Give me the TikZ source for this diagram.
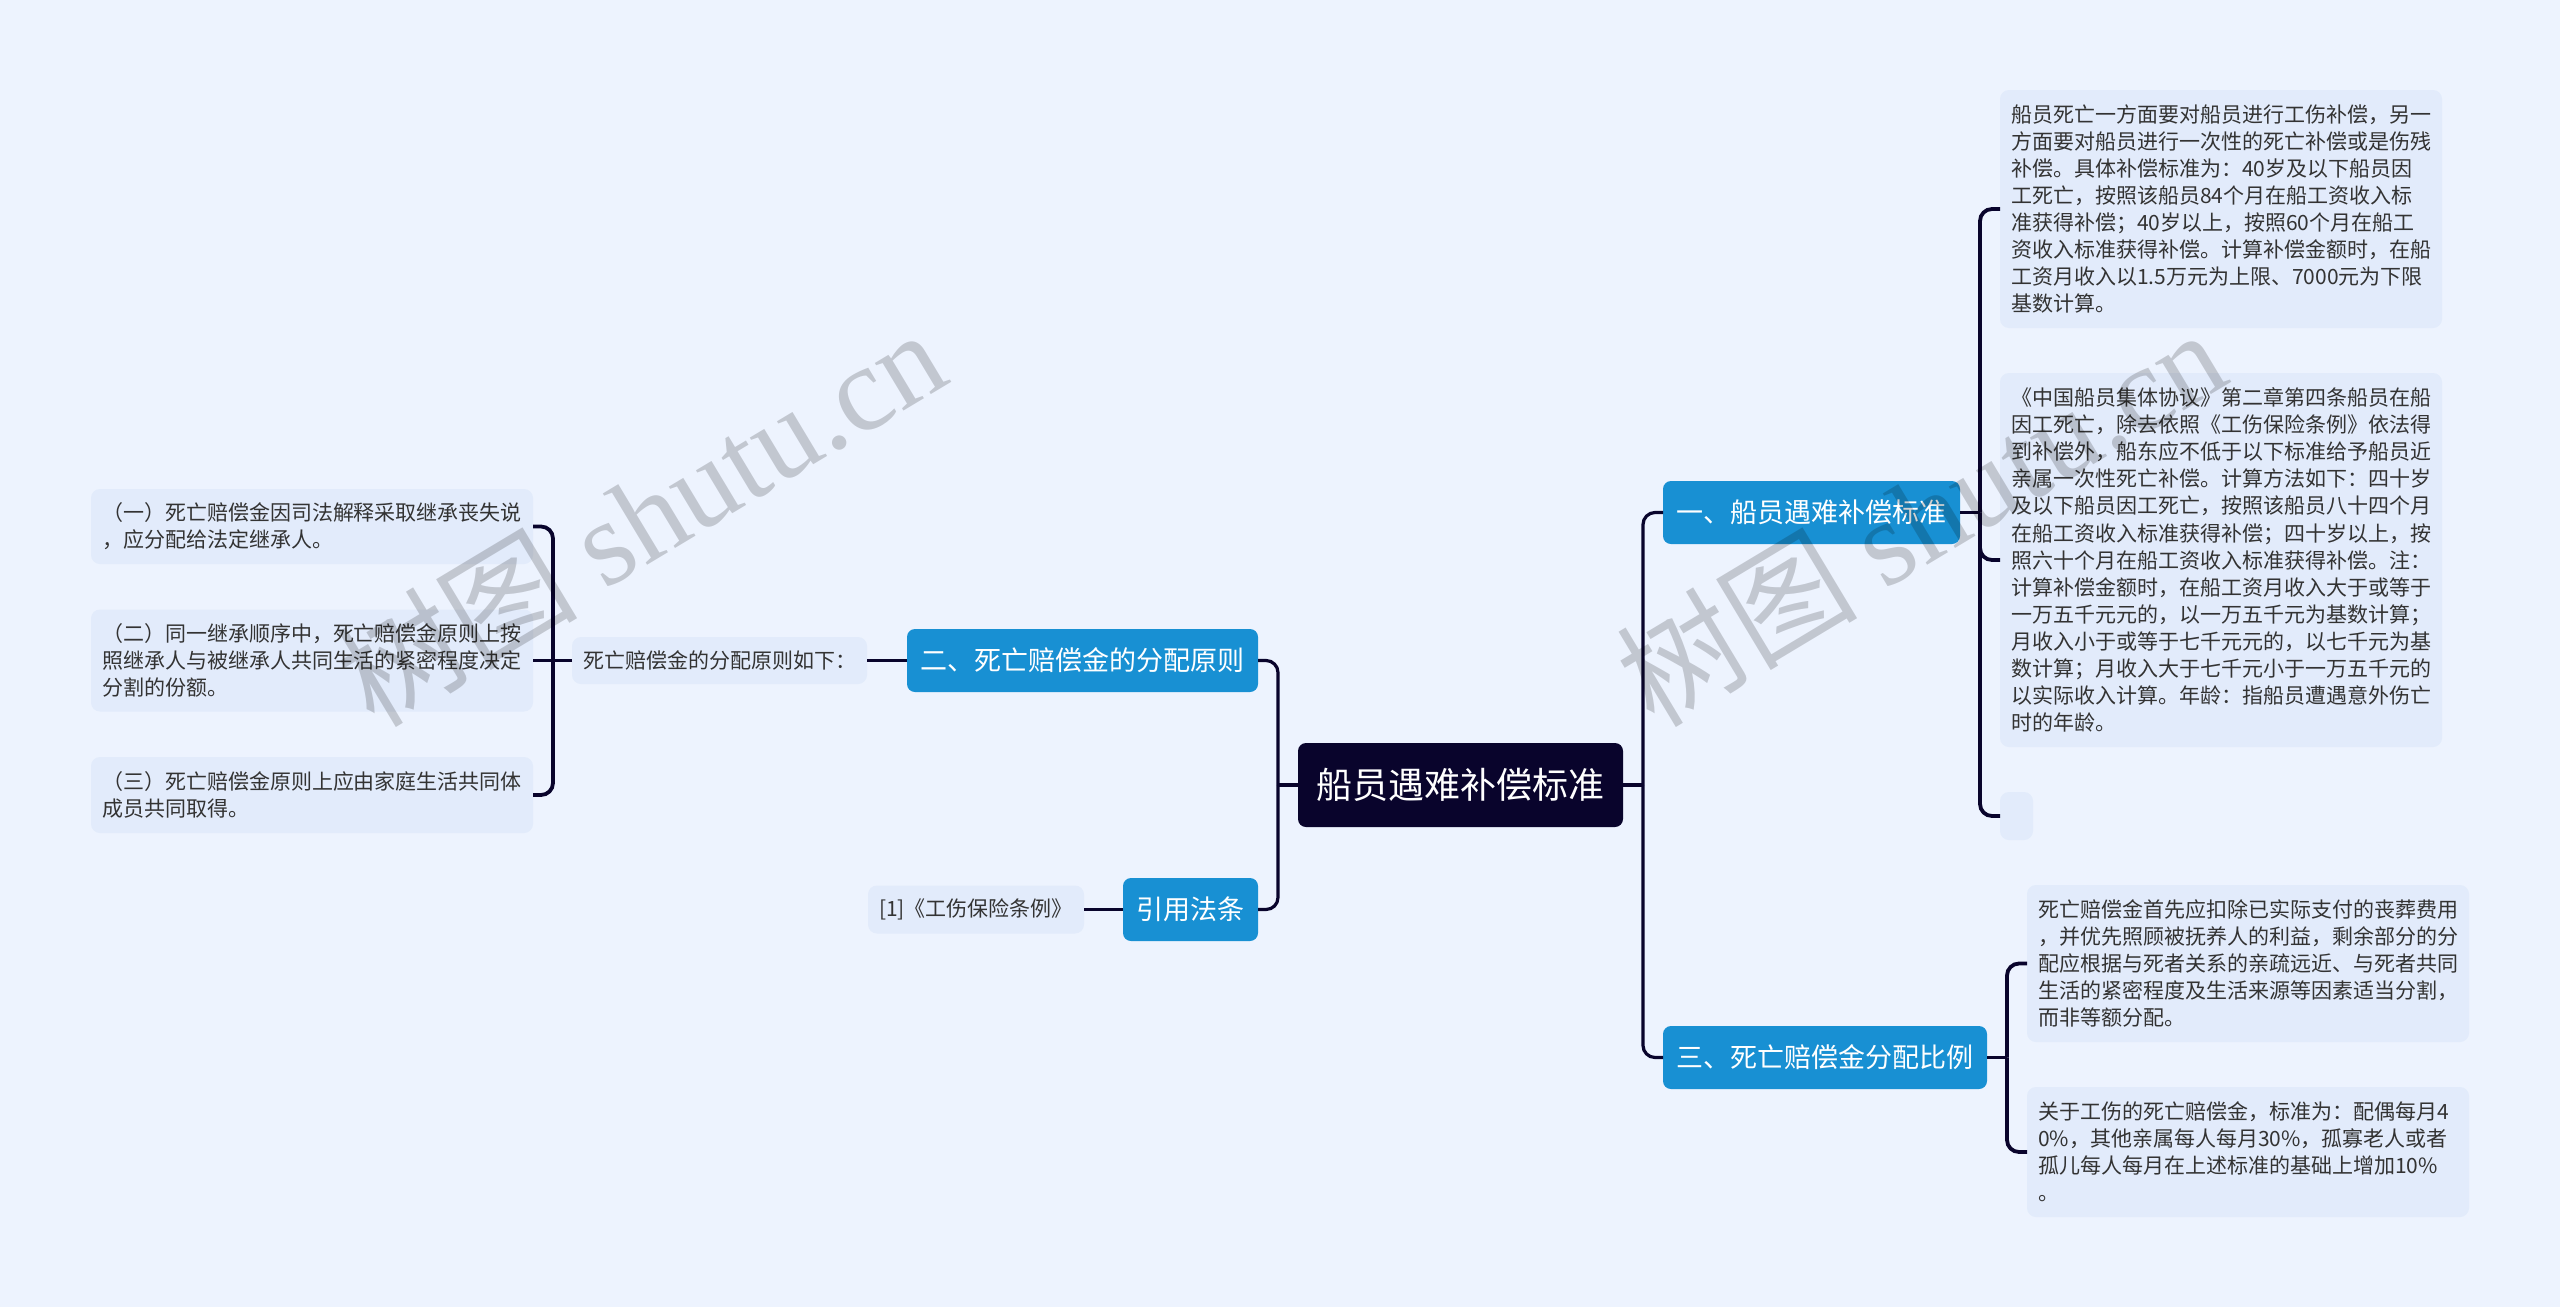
\documentclass[tikz,border=0pt]{standalone}
\usepackage{fontspec}
\setmainfont{Noto Sans CJK SC}
\newfontfamily\markfont{Liberation Serif}
\newcommand{\qcomma}{\char"FF0C\relax}
\newcommand{\qcolon}{\char"FF1A\relax}
\newcommand{\qsemi}{\char"FF1B\relax}
\newcommand{\qopen}{\char"FF08\relax}
\newcommand{\qclose}{\char"FF09\relax}
\definecolor{pagebg}{HTML}{EDF3FE}
\definecolor{leafbg}{HTML}{E2EBFB}
\definecolor{topicblue}{HTML}{1890D3}
\definecolor{rootdark}{HTML}{09042C}
\definecolor{leaftext}{HTML}{333333}
\tikzset{
  rootnode/.style={fill=rootdark, text=white, rounded corners=8pt, outer sep=0pt, inner xsep=18.5pt, inner ysep=0pt, minimum height=84pt, font=\fontsize{36}{40}\selectfont},
  topicnode/.style={fill=topicblue, text=white, rounded corners=8pt, outer sep=0pt, inner xsep=13.5pt, inner ysep=0pt, minimum height=63pt, font=\fontsize{27}{32}\selectfont},
  leafnode/.style={fill=leafbg, text=leaftext, rounded corners=9pt, outer sep=0pt, inner xsep=11pt, inner ysep=0pt, align=left, font=\fontsize{21}{27.1}\selectfont},
  link/.style={draw=rootdark, line width=3.2pt, rounded corners=12pt},
  leaflink/.style={link, line width=3.8pt},
  watermark/.style={text=black, text opacity=0.18, rotate=31, font=\fontsize{121}{130}\selectfont}
}

\begin{document}
\begin{tikzpicture}[x=1pt, y=-1pt]
\fill[pagebg] (0,0) rectangle (2560,1307);

% Nodes
\node[rootnode] (root) at (1460.5,785) {船员遇难补偿标准};
\node[topicnode] (standard) at (1811.5,512.5) {一、船员遇难补偿标准};
\node[topicnode] (ratio) at (1825,1057.5) {三、死亡赔偿金分配比例};
\node[topicnode] (principle) at (1082.5,660.5) {二、死亡赔偿金的分配原则};
\node[topicnode] (statute) at (1190.5,909.5) {引用法条};

\node[leafnode, text width=420pt, minimum height=238pt] (workinjury) at (2221,209) {船员死亡一方面要对船员进行工伤补偿\qcomma 另一\\方面要对船员进行一次性的死亡补偿或是伤残\\补偿。具体补偿标准为\qcolon 40岁及以下船员因\\工死亡\qcomma 按照该船员84个月在船工资收入标\\准获得补偿\qsemi 40岁以上\qcomma 按照60个月在船工\\资收入标准获得补偿。计算补偿金额时\qcomma 在船\\工资月收入以1.5万元为上限、7000元为下限\\基数计算。};
\node[leafnode, text width=420pt, minimum height=374pt] (agreement) at (2221,560) {《中国船员集体协议》第二章第四条船员在船\\因工死亡\qcomma 除去依照《工伤保险条例》依法得\\到补偿外\qcomma 船东应不低于以下标准给予船员近\\亲属一次性死亡补偿。计算方法如下\qcolon 四十岁\\及以下船员因工死亡\qcomma 按照该船员八十四个月\\在船工资收入标准获得补偿\qsemi 四十岁以上\qcomma 按\\照六十个月在船工资收入标准获得补偿。注\qcolon\\计算补偿金额时\qcomma 在船工资月收入大于或等于\\一万五千元元的\qcomma 以一万五千元为基数计算\qsemi\\月收入小于或等于七千元元的\qcomma 以七千元为基\\数计算\qsemi 月收入大于七千元小于一万五千元的\\以实际收入计算。年龄\qcolon 指船员遭遇意外伤亡\\时的年龄。};
\node[leafnode, text width=11pt, minimum height=48pt] (emptyleaf) at (2016.5,816) {};
\node[leafnode, text width=420pt, minimum height=157pt] (deduct) at (2248,963.5) {死亡赔偿金首先应扣除已实际支付的丧葬费用\\\qcomma 并优先照顾被抚养人的利益\qcomma 剩余部分的分\\配应根据与死者关系的亲疏远近、与死者共同\\生活的紧密程度及生活来源等因素适当分割\qcomma\\而非等额分配。};
\node[leafnode, text width=420pt, minimum height=130pt] (monthly) at (2248,1152) {关于工伤的死亡赔偿金\qcomma 标准为\qcolon 配偶每月4\\0\%\qcomma 其他亲属每人每月30\%\qcomma 孤寡老人或者\\孤儿每人每月在上述标准的基础上增加10\%\\。};

\node[leafnode, text width=273pt, minimum height=47pt] (rules) at (719.5,660.5) {死亡赔偿金的分配原则如下\qcolon};
\node[leafnode, text width=194pt, minimum height=48pt] (injuryact) at (976,909.5) {[1]《工伤保险条例》};
\node[leafnode, text width=420pt, minimum height=75pt] (ruleone) at (312,526.5) {\qopen 一\qclose 死亡赔偿金因司法解释采取继承丧失说\\\qcomma 应分配给法定继承人。};
\node[leafnode, text width=420pt, minimum height=102pt] (ruletwo) at (312,660.5) {\qopen 二\qclose 同一继承顺序中\qcomma 死亡赔偿金原则上按\\照继承人与被继承人共同生活的紧密程度决定\\分割的份额。};
\node[leafnode, text width=420pt, minimum height=76pt] (rulethree) at (312,795) {\qopen 三\qclose 死亡赔偿金原则上应由家庭生活共同体\\成员共同取得。};

\coordinate (forkright) at (1643,785);
\coordinate (forkleft) at (1278,785);
\coordinate (forkstandard) at (1980,512.5);
\coordinate (forkratio) at (2007,1057.5);
\coordinate (forkrules) at (553,660.5);

% Arrows
\draw[link] (root.east) -- (forkright);
\draw[link] (standard.west) -| (forkright);
\draw[link] (ratio.west) -| (forkright);
\draw[link] (root.west) -- (forkleft);
\draw[link] (principle.east) -| (forkleft);
\draw[link] (statute.east) -| (forkleft);

\draw[leaflink] (standard.east) -- (forkstandard);
\draw[leaflink] (workinjury.west) -| (forkstandard);
\draw[leaflink] (agreement.west) -| (forkstandard);
\draw[leaflink] (emptyleaf.west) -| (forkstandard);
\draw[leaflink] (ratio.east) -- (forkratio);
\draw[leaflink] (deduct.west) -| (forkratio);
\draw[leaflink] (monthly.west) -| (forkratio);

\draw[leaflink] (principle.west) -- (rules.east);
\draw[leaflink] (statute.west) -- (injuryact.east);
\draw[leaflink] (rules.west) -- (forkrules);
\draw[leaflink] (ruleone.east) -| (forkrules);
\draw[leaflink] (ruletwo.east) -- (forkrules);
\draw[leaflink] (rulethree.east) -| (forkrules);

% Watermarks
\node[watermark] (markleft) at (640,516) {树图 {\markfont shutu.cn}};
\node[watermark] (markright) at (1920,516) {树图 {\markfont shutu.cn}};
\end{tikzpicture}
\end{document}
